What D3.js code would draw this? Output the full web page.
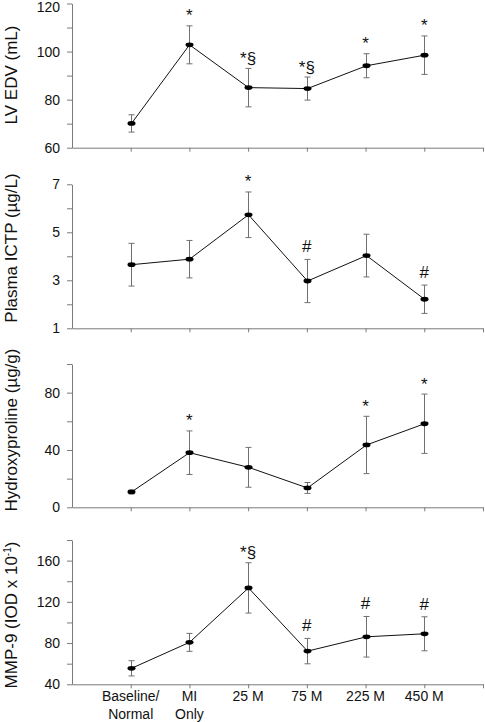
<!DOCTYPE html>
<html>
<head>
<meta charset="utf-8">
<script src="https://cdn.jsdelivr.net/npm/d3@7/dist/d3.min.js"></script>
<style>
  html, body { margin: 0; padding: 0; background: #fff; }
  svg { display: block; font-family: Arial, "Liberation Sans", sans-serif; }
</style>
</head>
<body>
<svg id="chart" width="485" height="722"></svg>
<script>
// ---------------- DATA ----------------
const categories = ["Baseline/Normal", "MI Only", "25 M", "75 M", "225 M", "450 M"];
const xLabelLines = [["Baseline/", "Normal"], ["MI", "Only"], ["25 M"], ["75 M"], ["225 M"], ["450 M"]];

const lvEdv    = [70.1, 102.8, 85.0, 84.6, 94.1, 98.5];
const lvEdvErr = [3.6, 7.9, 8.0, 4.8, 5.0, 8.0];
const lvEdvSig = ["", "*", "*§", "*§", "*", "*"];

const ictp    = [3.65, 3.88, 5.73, 2.97, 4.03, 2.21];
const ictpErr = [0.89, 0.78, 0.95, 0.90, 0.89, 0.59];
const ictpSig = ["", "", "*", "#", "", "#"];

const hyp    = [10.7, 38.1, 27.9, 13.5, 43.5, 58.3];
const hypErr = [1.3, 15.2, 13.9, 3.8, 20.0, 20.7];
const hypSig = ["", "*", "", "", "*", "*"];

const mmp    = [55.5, 80.7, 133.5, 72.2, 86.1, 89.0];
const mmpErr = [7.4, 8.7, 24.4, 12.3, 19.7, 16.5];
const mmpSig = ["", "", "*§", "#", "#", "#"];

const lvTicks   = [60, 70, 80, 90, 100, 110, 120];
const lvLabels  = [60, 80, 100, 120];
const ictpTicks = [1, 2, 3, 4, 5, 6, 7];
const ictpLabels = [1, 3, 5, 7];
const hypTicks  = [0, 20, 40, 60, 80, 100];
const hypLabels = [0, 40, 80];
const mmpTicks  = [40, 60, 80, 100, 120, 140, 160, 180];
const mmpLabels = [40, 80, 120, 160];

// ---------------- LAYOUT ----------------
const svg = d3.select("#chart");
const x = d3.scaleLinear().domain([0, 7]).range([72, 483]);
const axisColor = "#7a7a7a";
const errColor = "#707070";

const panels = [
  { vals: lvEdv, errs: lvEdvErr, sig: lvEdvSig, domain: [60, 120], range: [147.7, 3.5],
    ticks: lvTicks, labels: lvLabels, title: "LV EDV (mL)", titleY: 75 },
  { vals: ictp, errs: ictpErr, sig: ictpSig, domain: [1, 7], range: [328.3, 184.3],
    ticks: ictpTicks, labels: ictpLabels, title: "Plasma ICTP (µg/L)", titleY: 248 },
  { vals: hyp, errs: hypErr, sig: hypSig, domain: [0, 100], range: [507.3, 364],
    ticks: hypTicks, labels: hypLabels, title: "Hydroxyproline (µg/g)", titleY: 430 },
  { vals: mmp, errs: mmpErr, sig: mmpSig, domain: [40, 180], range: [684.3, 540],
    ticks: mmpTicks, labels: mmpLabels, title: "MMP-9 (IOD x 10", sup: "-1", titleY: 615, last: true }
];

panels.forEach((p) => {
  const y = d3.scaleLinear().domain(p.domain).range(p.range);
  const g = svg.append("g");

  // Y axis
  const yAxis = d3.axisLeft(y)
    .tickValues(p.ticks)
    .tickSize(5)
    .tickSizeOuter(0)
    .tickPadding(7)
    .tickFormat(d => p.labels.includes(d) ? d : "");
  const ya = g.append("g").attr("transform", `translate(${x(0)},0)`).call(yAxis);
  ya.selectAll("path, line").attr("stroke", axisColor).attr("stroke-width", 1);
  ya.selectAll("text").attr("font-size", 14).attr("fill", "#111")
    .attr("font-family", "Arial, 'Liberation Sans', sans-serif")
    .attr("dy", d => y(d) < 6 ? "0.55em" : "0.32em");

  // X axis
  const xAxis = d3.axisBottom(x)
    .tickValues([1, 2, 3, 4, 5, 6, 7])
    .tickSize(4)
    .tickSizeOuter(0)
    .tickFormat("");
  const xa = g.append("g").attr("transform", `translate(0,${y.range()[0]})`).call(xAxis);
  xa.selectAll("path, line").attr("stroke", axisColor).attr("stroke-width", 1);

  // Y title
  const t = g.append("text")
    .attr("transform", `translate(11,${p.titleY}) rotate(-90)`)
    .attr("text-anchor", "middle")
    .attr("dominant-baseline", "central")
    .attr("font-size", 17)
    .attr("fill", "#111")
    .text(p.title);
  if (p.sup) {
    t.append("tspan").attr("dy", -4.5).attr("font-size", 10).text(p.sup);
    t.append("tspan").attr("dy", 4.5).text(")");
  }

  const data = p.vals.map((v, i) => ({ i: i + 1, v, e: p.errs[i], s: p.sig[i] }));

  // Error bars
  const eb = g.append("g").attr("stroke", errColor).attr("stroke-width", 1);
  data.forEach(d => {
    const xx = Math.round(x(d.i)) + 0.5;
    eb.append("line").attr("x1", xx).attr("x2", xx).attr("y1", y(d.v + d.e)).attr("y2", y(d.v - d.e));
    eb.append("line").attr("x1", xx - 3).attr("x2", xx + 3).attr("y1", y(d.v + d.e)).attr("y2", y(d.v + d.e));
    eb.append("line").attr("x1", xx - 3).attr("x2", xx + 3).attr("y1", y(d.v - d.e)).attr("y2", y(d.v - d.e));
  });

  // Line
  const line = d3.line().x(d => Math.round(x(d.i)) + 0.5).y(d => y(d.v));
  g.append("path").datum(data).attr("d", line)
    .attr("fill", "none").attr("stroke", "#111").attr("stroke-width", 1);

  // Markers
  g.selectAll("ellipse.m").data(data).join("ellipse")
    .attr("cx", d => Math.round(x(d.i)) + 0.5).attr("cy", d => y(d.v))
    .attr("rx", 4).attr("ry", 2.4).attr("fill", "#000");

  // Significance marks
  g.selectAll("text.sig").data(data.filter(d => d.s)).join("text")
    .attr("x", d => x(d.i))
    .attr("y", d => y(d.v + d.e) - (d.s.includes("#") ? 7 : 4.5))
    .attr("text-anchor", "middle")
    .attr("font-size", 17)
    .attr("fill", "#111")
    .text(d => d.s);

  // X labels on last panel
  if (p.last) {
    xLabelLines.forEach((lines, i) => {
      const tx = g.append("text")
        .attr("x", x(i + 1))
        .attr("y", 701)
        .attr("text-anchor", "middle")
        .attr("font-size", 14)
        .attr("fill", "#111");
      lines.forEach((ln, k) => {
        tx.append("tspan").attr("x", x(i + 1)).attr("dy", k === 0 ? 0 : 18).text(ln);
      });
    });
  }
});
</script>
</body>
</html>
